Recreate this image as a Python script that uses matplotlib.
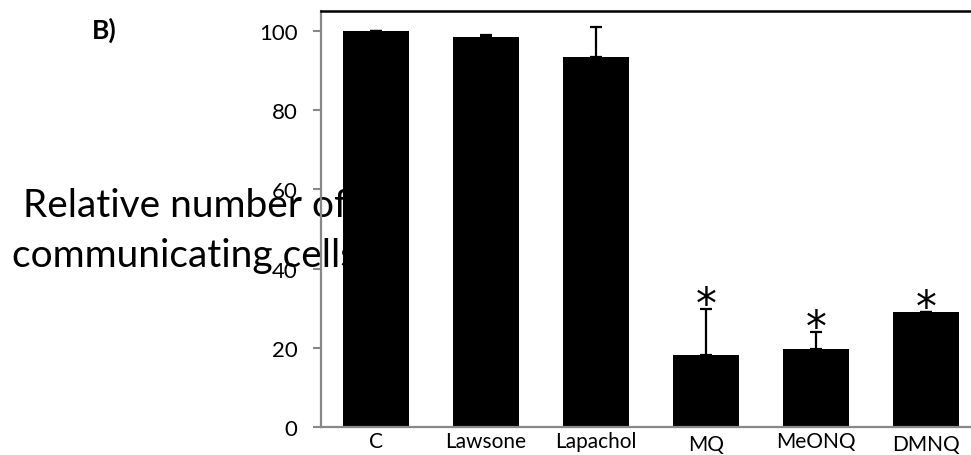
import matplotlib
matplotlib.use("Agg")
import matplotlib.pyplot as plt
import matplotlib.transforms as mtransforms
import numpy as np

# =========================
# Data
# =========================
categories = ["C", "Lawsone", "Lapachol", "MQ", "MeONQ", "DMNQ"]
values = [100.0, 98.5, 93.4, 18.2, 19.7, 29.0]
errors = [0.0, 0.5, 7.6, 11.6, 4.3, 0.0]
significant = [False, False, False, True, True, True]
y_ticks = [0, 20, 40, 60, 80, 100]

plt.rcParams["font.family"] = ["Lato", "DejaVu Sans"]

fig = plt.figure(figsize=(9.71, 4.56), dpi=100)
ax = fig.add_axes([321 / 971, 28 / 456, 660 / 971, 416 / 456])
ax.set_zorder(1)
ax.patch.set_alpha(0)

x = np.arange(len(categories))

# y label sits under the bars, as in the original
fig.text(185 / 971, 1 - 231 / 456, "Relative number of\ncommunicating cells",
         ha="center", va="center", fontsize=28, zorder=0, linespacing=1.45)

ax.bar(x, values, width=0.6, color="black", zorder=2)
ax.errorbar(x, values, yerr=[np.zeros(len(errors)), errors], fmt="none",
            ecolor="black", elinewidth=1.6, capsize=4.5, capthick=1.6, zorder=3)

# significance stars
for xi, v, e, sig in zip(x, values, errors, significant):
    if sig:
        ax.annotate("*", (xi, v + e), xytext=(0, -6), textcoords="offset points",
                    ha="center", va="baseline", fontsize=30,
                    family=["DejaVu Sans"], zorder=4)

ax.set_xlim(-0.5, len(categories) - 0.5)
ax.set_ylim(0, 105)
ax.set_yticks(y_ticks)
ax.set_xticks(x)
ax.set_xticklabels(categories, fontsize=15)
ax.tick_params(axis="y", labelsize=16, length=6, width=1.5, color="#888888", pad=11)
ax.tick_params(axis="x", length=0, pad=3)

# MQ and DMNQ labels sit a bit lower in the original
for lab in ax.get_xticklabels():
    if lab.get_text() in ("MQ", "DMNQ"):
        lab.set_transform(lab.get_transform() +
                          mtransforms.ScaledTranslation(0, -3 / 100, fig.dpi_scale_trans))

for side in ("left", "bottom"):
    ax.spines[side].set_color("#888888")
    ax.spines[side].set_linewidth(1.6)
ax.spines["top"].set_color("black")
ax.spines["top"].set_linewidth(1.8)
ax.spines["right"].set_visible(False)

fig.text(104 / 971, 1 - 30 / 456, "B)", fontsize=19, fontweight="bold",
         ha="center", va="center")

fig.savefig("out.png", dpi=100)
